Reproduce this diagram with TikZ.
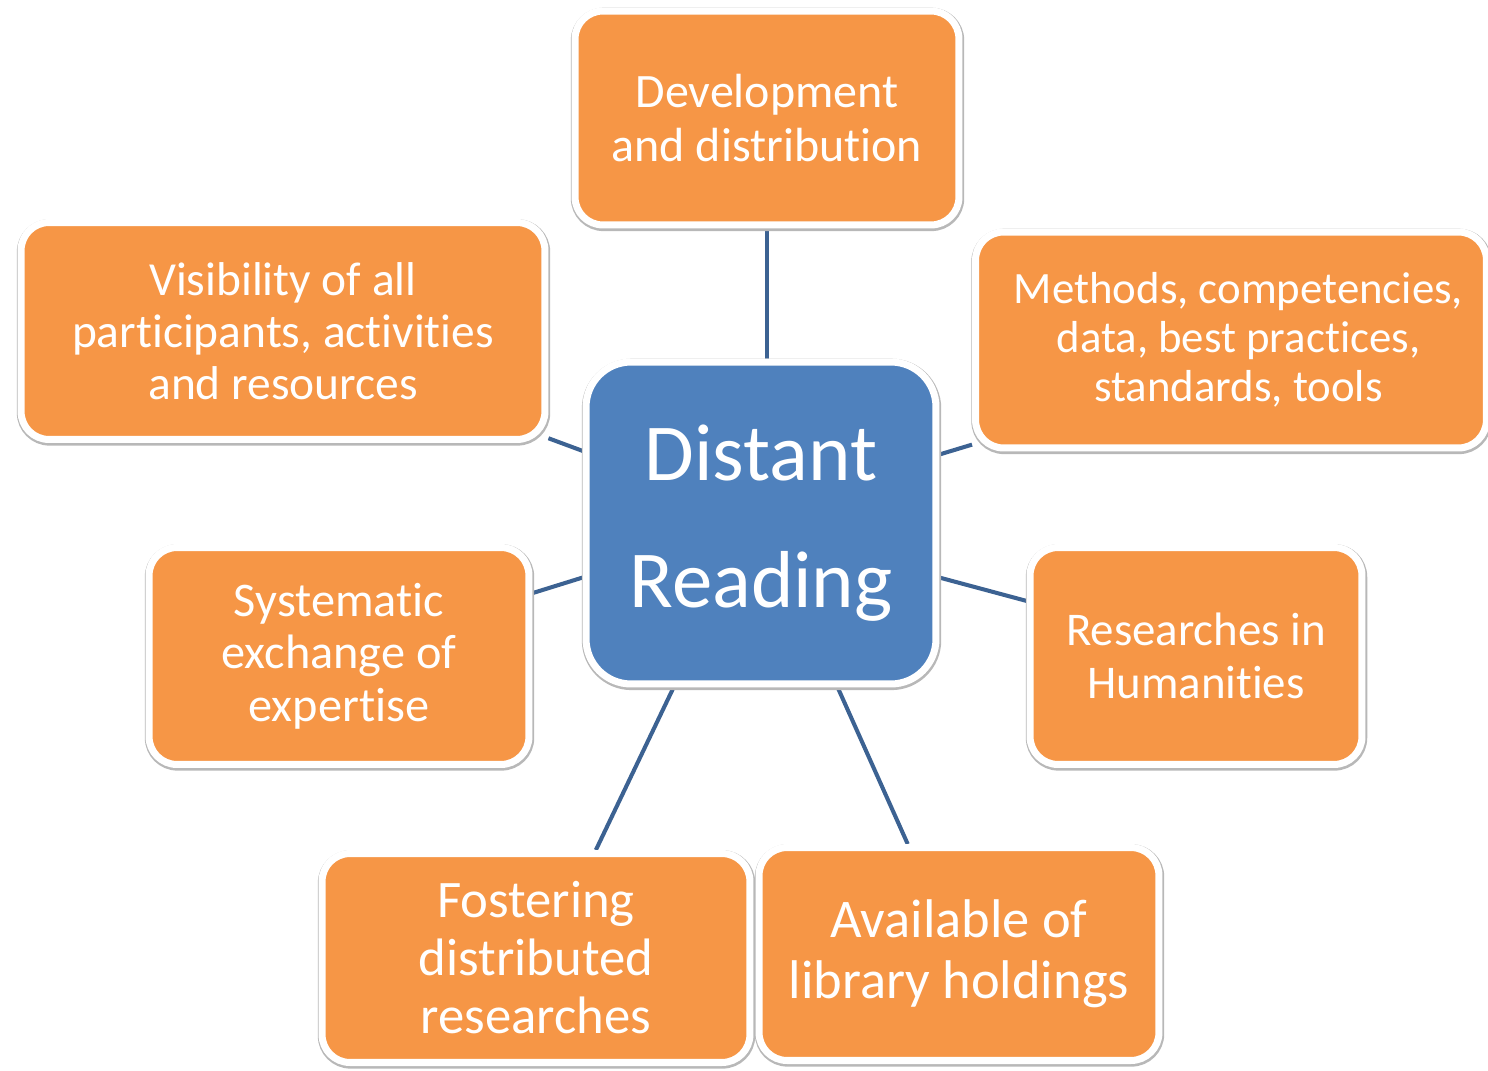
\documentclass[tikz,border=0pt]{standalone}
\usepackage{fontspec}
\setmainfont[Ligatures={NoCommon}]{Carlito}
\usetikzlibrary{backgrounds}

\definecolor{orgfill}{RGB}{246,150,70}
\definecolor{bluefill}{RGB}{79,129,189}
\definecolor{linkblue}{RGB}{60,98,146}

\tikzset{
  boxbase/.style={
    draw=white, line width=4pt, inner sep=0pt, align=center, text=white,
    preaction={draw=black!28, line width=5.4pt, transform canvas={xshift=0.3pt,yshift=-0.8pt}}
  },
  topicbox/.style={boxbase, fill=orgfill, rounded corners=0.56cm},
  hubbox/.style={boxbase, fill=bluefill, rounded corners=0.9cm},
  link/.style={draw=linkblue, line width=2.3pt}
}

\newcommand{\fs}[2]{\fontsize{#1}{#2}\selectfont}

\begin{document}
\begin{tikzpicture}[x=0.02cm, y=-0.02cm]
  % canvas
  \useasboundingbox (0,0) rectangle (1488,1071);

  % hub
  \node[hubbox, minimum width=7.0cm, minimum height=6.44cm, font=\fs{46}{72}] (hub) at (761,523)
    {Distant\\Reading};

  % surrounding topics
  \node[topicbox, minimum width=7.68cm, minimum height=4.28cm, font=\fs{27.3}{31.2}] (dev) at (767,118)
    {Development\\and distribution};
  \node[topicbox, minimum width=10.48cm, minimum height=4.34cm, font=\fs{27}{29.5}] (vis) at (283,331)
    {Visibility of all\\participants, activities\\and resources};
  \node[topicbox, minimum width=10.22cm, minimum height=4.32cm, font=\fs{25.5}{28}] (meth) at (1231,340)
    {\hspace*{0.3cm}Methods, competencies,\\\hspace*{0.3cm}data, best practices,\\\hspace*{0.3cm}standards, tools};
  \node[topicbox, minimum width=7.6cm, minimum height=4.34cm, font=\fs{27.5}{30}] (sys) at (339,656)
    {Systematic\\exchange of\\expertise};
  \node[topicbox, minimum width=6.64cm, minimum height=4.34cm, font=\fs{26.7}{30.6}] (res) at (1196,656)
    {Researches in\\Humanities};
  \node[topicbox, minimum width=8.56cm, minimum height=4.18cm, font=\fs{30}{33}] (fos) at (536,958)
    {Fostering\\distributed\\researches};
  \node[topicbox, minimum width=8.0cm, minimum height=4.26cm, font=\fs{31}{35}] (avail) at (959,954)
    {Available of\\library holdings};

  % spokes from the hub to each topic, kept behind the boxes
  \begin{scope}[on background layer]
    \draw[link] (dev.south) -- (dev.south |- hub.north);
    \draw[link] (hub.158) -- (vis.-22);
    \draw[link] (hub.21) -- (meth.-158.6);
    \draw[link] (hub.197) -- (sys.18);
    \draw[link] (hub.-17) -- (res.162.3);
    \draw[link] (hub.242.7) -- (fos.61);
    \draw[link] (hub.-65.3) -- (avail.115.7);
  \end{scope}
\end{tikzpicture}
\end{document}
